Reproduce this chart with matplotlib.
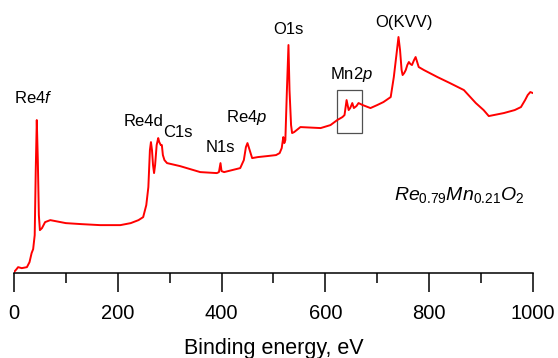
import matplotlib.pyplot as plt
from matplotlib.patches import Rectangle
from matplotlib.ticker import MultipleLocator

# survey spectrum (binding energy, counts in arbitrary units)
energy = [0, 5, 8, 15, 25, 30, 34, 37, 40, 42, 44, 46, 48, 50, 54, 60, 70, 80,
          100, 130, 166, 205, 225, 240, 249, 255, 259, 262, 264, 266, 268, 270,
          272, 275, 278, 280, 283, 285, 287, 290, 295, 320, 359, 391, 395, 398,
          400, 405, 436, 443, 447, 450, 453, 459, 470, 488, 505, 512, 516, 519,
          521, 523, 526, 529, 531, 534, 536, 540, 552, 591, 610, 623, 633, 637,
          641, 645, 648, 652, 655, 660, 664, 668, 672, 687, 700, 712, 726, 732,
          737, 741, 744, 747, 749, 752, 755, 758, 761, 764, 767, 771, 774, 777,
          780, 790, 816, 840, 867, 890, 905, 915, 944, 965, 977, 985, 990, 995,
          1000]
intensity = [1, 4, 6, 5, 6, 11, 20, 24, 38, 103, 153, 113, 58, 43, 45, 51, 53,
             52, 50, 49, 48, 48, 50, 53, 56, 68, 86, 123, 131, 123, 108, 100,
             108, 128, 135, 131, 128, 128, 118, 113, 110, 107, 101, 100, 101,
             110, 102, 101, 105, 113, 126, 130, 125, 115, 116, 117, 118, 120,
             125, 136, 130, 133, 183, 228, 183, 148, 140, 141, 146, 145, 148,
             153, 156, 158, 173, 163, 165, 170, 165, 167, 170, 169, 168, 165,
             168, 171, 176, 196, 218, 236, 223, 203, 198, 200, 203, 208, 211,
             209, 208, 213, 216, 211, 206, 203, 196, 190, 183, 170, 163, 157,
             160, 163, 166, 173, 178, 181, 180]

peak_labels = ["Re4$\\mathit{f}$", "Re4d", "C1s", "N1s", "Re4$\\mathit{p}$",
               "O1s", "Mn2$\\mathit{p}$", "O(KVV)"]
label_x = [37, 249, 316, 398, 448, 529, 650, 751]
label_y = [175, 152, 141, 126, 156, 244, 199, 251]

plt.rcParams["font.family"] = ["Liberation Sans", "DejaVu Sans"]
plt.rcParams["mathtext.fontset"] = "custom"
plt.rcParams["mathtext.rm"] = "Liberation Sans"
plt.rcParams["mathtext.it"] = "Liberation Sans:italic"

fig = plt.figure(figsize=(5.58, 3.58), dpi=100)
ax = fig.add_axes([0.025, 0.237, 0.930, 0.763])

ax.plot(energy, intensity, color="#ff0000", linewidth=1.4)

# box around the Mn2p region
ax.add_patch(Rectangle((622, 140), 48, 43, fill=False, edgecolor="#505050",
                       linewidth=0.9))

for text, x, y in zip(peak_labels, label_x, label_y):
    ax.text(x, y, text, ha="center", va="center", fontsize=12)

ax.text(857, 78, "$\\mathit{Re_{0.79}Mn_{0.21}O_2}$", ha="center",
        va="center", fontsize=14)

ax.set_xlim(0, 1000)
ax.set_ylim(0, 273)
for side in ("top", "right", "left"):
    ax.spines[side].set_visible(False)
ax.spines["bottom"].set_linewidth(1.1)
ax.set_yticks([])
ax.xaxis.set_major_locator(MultipleLocator(200))
ax.xaxis.set_minor_locator(MultipleLocator(100))
ax.tick_params(axis="x", which="major", direction="out", length=14, width=1.1,
               pad=8, labelsize=14.5)
ax.tick_params(axis="x", which="minor", direction="out", length=7, width=1.1)
ax.set_xlabel("Binding energy, eV", fontsize=15.5, labelpad=11)

fig.savefig("out.png", dpi=100)
